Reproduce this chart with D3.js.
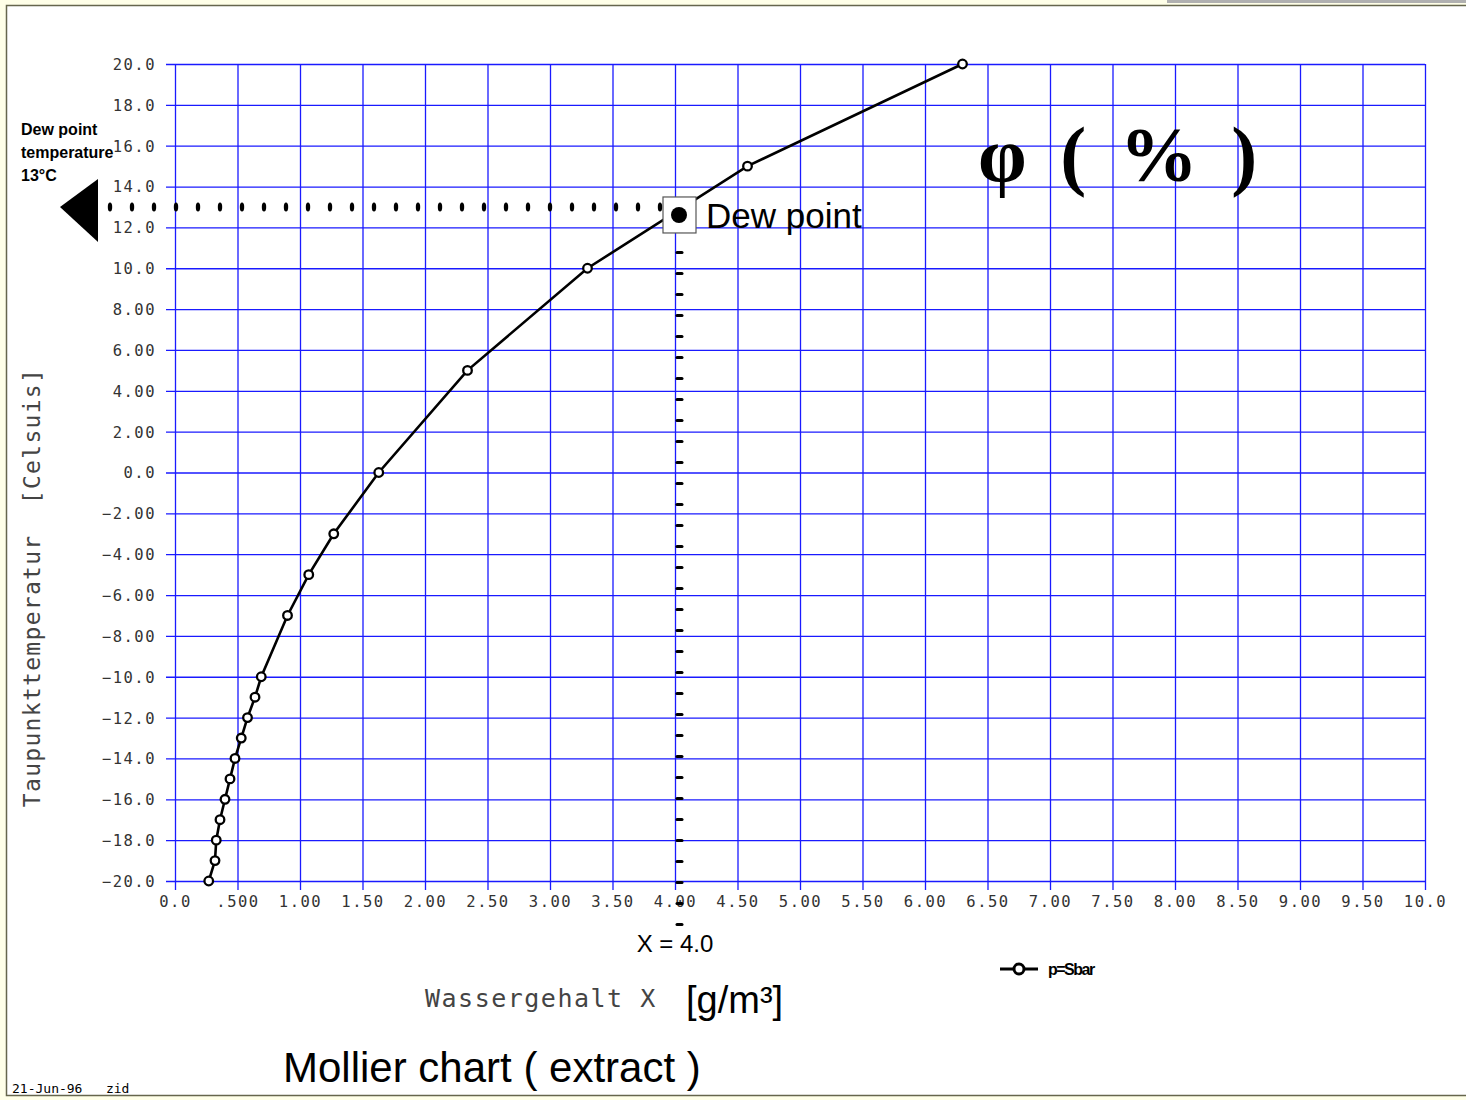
<!DOCTYPE html>
<html>
<head>
<meta charset="utf-8">
<script src="https://cdn.jsdelivr.net/npm/d3@7"></script>
<style>
  body { margin: 0; background: #ffffe8; }
  #chart { width: 1466px; height: 1100px; }
</style>
</head>
<body>
<div id="chart"></div>
<script>
// dew point temperature (°C) vs water content X (g/m³)
const tempC  = [-20, -19, -18, -17, -16, -15, -14, -13, -12, -11, -10, -7, -5, -3, 0, 5, 10, 15, 20];
const waterX = [0.27, 0.32, 0.33, 0.36, 0.40, 0.44, 0.48, 0.53, 0.58, 0.64, 0.69, 0.90, 1.07, 1.27, 1.63, 2.34, 3.30, 4.58, 6.30];

const xTicks = d3.range(0, 10.01, 0.5);
const xTickLabels = ["0.0", ".500", "1.00", "1.50", "2.00", "2.50", "3.00", "3.50", "4.00", "4.50", "5.00",
                     "5.50", "6.00", "6.50", "7.00", "7.50", "8.00", "8.50", "9.00", "9.50", "10.0"];
const yTicks = d3.range(-20, 20.01, 2);
const yTickLabels = ["−20.0", "−18.0", "−16.0", "−14.0", "−12.0", "−10.0", "−8.00", "−6.00", "−4.00", "−2.00",
                     "0.0", "2.00", "4.00", "6.00", "8.00", "10.0", "12.0", "14.0", "16.0", "18.0", "20.0"];

const dewX = 4.0, dewT = 13;

const width = 1466, height = 1100;
const margin = {top: 64, right: 41, bottom: 219, left: 175};
const plotW = width - margin.left - margin.right;
const plotH = height - margin.top - margin.bottom;
const grid = "#1a1aff";
const plotter = "'DejaVu Sans Mono', monospace";

const svg = d3.select('#chart').append('svg')
    .attr('width', width)
    .attr('height', height)
    .style('font-family', 'Liberation Sans, Arial, sans-serif');

// page frame
svg.append('rect').attr('width', width).attr('height', height).attr('fill', '#ffffe8');
svg.append('rect').attr('x', 1167).attr('y', 0).attr('width', 299).attr('height', 3).attr('fill', '#b0b0b0');
svg.append('rect').attr('x', 6.5).attr('y', 5.5).attr('width', width).attr('height', 1090)
    .attr('fill', '#fff').attr('stroke', '#66664d').attr('stroke-width', 1.5);

const x = d3.scaleLinear().domain([0, 10]).range([0, plotW]);
const y = d3.scaleLinear().domain([-20, 20]).range([plotH, 0]);

const g = svg.append('g').attr('transform', `translate(${margin.left},${margin.top})`);

// grid via axes
const yAxis = g.append('g')
    .call(d3.axisLeft(y).tickValues(yTicks).tickSize(-plotW).tickSizeOuter(0)
        .tickFormat((d, i) => yTickLabels[i]));
yAxis.select('.domain').remove();
yAxis.selectAll('line').attr('x1', -9).attr('stroke', grid).attr('stroke-width', 1.3);

const xAxis = g.append('g').attr('transform', `translate(0,${plotH})`)
    .call(d3.axisBottom(x).tickValues(xTicks).tickSize(-plotH).tickSizeOuter(0)
        .tickFormat((d, i) => xTickLabels[i]));
xAxis.select('.domain').remove();
xAxis.selectAll('line').attr('y1', 9).attr('stroke', grid).attr('stroke-width', 1.3);

g.selectAll('.tick text')
    .attr('fill', '#333')
    .style('font-family', plotter)
    .style('font-size', '15.5px')
    .style('letter-spacing', '1.5px');
yAxis.selectAll('.tick text').attr('x', -19).attr('dy', '0.35em');
xAxis.selectAll('.tick text').attr('y', 15).attr('dy', '0.71em');

// dotted guide lines to the dew point
const hDots = d3.range(x.invert(-65), dewX - 0.1, 22 / 125);
g.selectAll('.hdot').data(hDots).enter().append('ellipse')
    .attr('cx', d => x(d)).attr('cy', y(dewT))
    .attr('rx', 2.2).attr('ry', 4.5).attr('fill', '#000');

const vDots = d3.range(dewT - 1.2, -22.3, -21 / 20.425);
g.selectAll('.vdot').data(vDots).enter().append('rect')
    .attr('x', x(dewX) + 0.5).attr('y', d => y(d) - 1.5)
    .attr('width', 8).attr('height', 3).attr('rx', 1.5).attr('fill', '#000');

// curve
const line = d3.line().x((d, i) => x(waterX[i])).y(d => y(d));
g.append('path').datum(tempC)
    .attr('d', line).attr('fill', 'none')
    .attr('stroke', '#000').attr('stroke-width', 2.6);
g.selectAll('.pt').data(tempC).enter().append('circle')
    .attr('cx', (d, i) => x(waterX[i])).attr('cy', d => y(d))
    .attr('r', 4.3).attr('fill', '#fff').attr('stroke', '#000').attr('stroke-width', 2.3);

// dew point marker
const dx = x(dewX) + 4, dy = y(dewT) + 8;
g.append('rect').attr('x', dx - 16).attr('y', dy - 18).attr('width', 33).attr('height', 36)
    .attr('fill', '#fff').attr('stroke', '#555').attr('stroke-width', 1.2);
g.append('circle').attr('cx', dx).attr('cy', dy).attr('r', 8).attr('fill', '#000');
g.append('text').attr('x', dx + 27).attr('y', dy + 13)
    .style('font-size', '35px').text('Dew point');

// arrow triangle on the left
svg.append('path')
    .attr('d', d3.line()([[60, margin.top + y(dewT)], [98, margin.top + y(dewT) - 28], [98, margin.top + y(dewT) + 35]]) + 'Z')
    .attr('fill', '#000');

// annotations
const dewLbl = svg.append('text').attr('x', 21).style('font-size', '16px').style('font-weight', 'bold');
["Dew point", "temperature", "13°C"].forEach((t, i) =>
    dewLbl.append('tspan').attr('x', 21).attr('y', 135 + i * 23).text(t));

svg.append('text').attr('x', 978).attr('y', 181)
    .style('font-family', "'Liberation Serif', 'DejaVu Serif', serif")
    .style('font-size', '78px').style('font-weight', 'bold').style('word-spacing', '14px')
    .attr('xml:space', 'preserve').text('φ ( % )');

svg.append('text').attr('x', 675).attr('y', 952).attr('text-anchor', 'middle')
    .style('font-size', '24px').text('X = 4.0');

svg.append('text').attr('x', 425).attr('y', 1007)
    .style('font-family', plotter).style('font-size', '25px').style('letter-spacing', '1.5px')
    .attr('fill', '#444').attr('xml:space', 'preserve').text('Wassergehalt X');
svg.append('text').attr('x', 686).attr('y', 1013)
    .style('font-size', '38px').text('[g/m³]');

svg.append('text')
    .attr('transform', `translate(40,${(372 + 803) / 2}) rotate(-90)`)
    .attr('text-anchor', 'middle')
    .style('font-family', plotter).style('font-size', '23px').style('letter-spacing', '1.3px')
    .attr('fill', '#444').attr('xml:space', 'preserve').text('Taupunkttemperatur  [Celsuis]');

svg.append('text').attr('x', 283).attr('y', 1082)
    .style('font-size', '42px').text('Mollier chart ( extract )');

svg.append('text').attr('x', 12).attr('y', 1093)
    .style('font-family', plotter).style('font-size', '13px').attr('xml:space', 'preserve')
    .text('21-Jun-96   zid');

// legend
const leg = svg.append('g').attr('transform', 'translate(1000,969)');
leg.append('line').attr('x1', 0).attr('x2', 38).attr('stroke', '#000').attr('stroke-width', 3);
leg.append('circle').attr('cx', 19).attr('r', 5).attr('fill', '#fff').attr('stroke', '#000').attr('stroke-width', 3);
leg.append('text').attr('x', 48).attr('y', 6).style('font-size', '16px').style('font-weight', 'bold')
    .style('letter-spacing', '-1.5px').text('p=Sbar');
</script>
</body>
</html>
